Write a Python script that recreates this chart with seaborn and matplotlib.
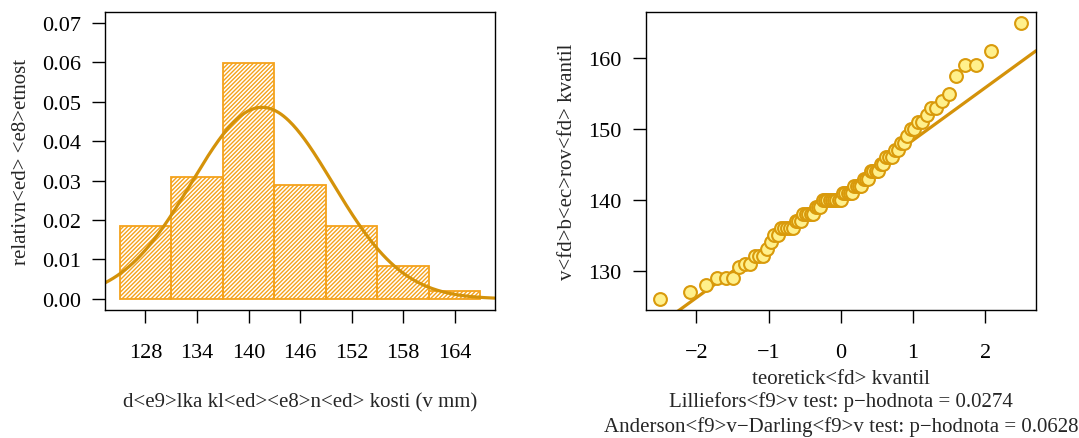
import numpy as np
import pandas as pd
import matplotlib
matplotlib.use("Agg")
import matplotlib.pyplot as plt
import seaborn as sns
from statistics import NormalDist

# delka klicni kosti (mm), 81 hodnot odectenych z Q-Q grafu
kost = [126, 127, 128, 129, 129, 129, 130.5, 131, 131,
        132, 132, 132, 133, 134, 135, 135, 136, 136, 136, 136, 136, 137, 137, 137,
        138, 138, 138, 138, 138, 139, 139, 139,
        140, 140, 140, 140, 140, 140, 140, 140, 140,
        141, 141, 141, 141, 141, 142, 142, 142, 142, 143, 143, 143,
        144, 144, 144, 144, 145, 145, 146, 146, 146, 147, 147, 148, 148, 149,
        150, 150, 151, 151, 152, 153, 153, 154, 155,
        157.5, 159, 159, 161, 165]
breaks = [125, 131, 137, 143, 149, 155, 161, 167]
hist_ticks = [128, 134, 140, 146, 152, 158, 164]
dens_ticks = [0.00, 0.01, 0.02, 0.03, 0.04, 0.05, 0.06, 0.07]
qq_xticks = [-2, -1, 0, 1, 2]
qq_yticks = [130, 140, 150, 160]
p_lillie = "0.0274"
p_ad = "0.0628"

c_bar = "#F4A21C"
c_line = "#D4920A"
c_pt_face = "#FFF08C"
c_pt_edge = "#D99A0B"

sns.set_theme(style="ticks")
plt.rcParams["font.family"] = ["Liberation Serif", "DejaVu Serif"]
plt.rcParams["hatch.linewidth"] = 1.0
plt.rcParams["hatch.color"] = c_bar

df = pd.DataFrame({"x": kost})
x = np.array(kost)
m, s = x.mean(), x.std(ddof=1)

fig = plt.figure(figsize=(10.79, 4.39), dpi=100)
ax1 = fig.add_axes([0.0976, 0.2916, 0.3609, 0.6795])
ax2 = fig.add_axes([0.5984, 0.2916, 0.3617, 0.6795])

# histogram (R bins jsou zprava uzavrene -> posun o epsilon)
sns.histplot(data=df, x="x", bins=np.array(breaks) + 1e-6, stat="density", ax=ax1)
for p in ax1.patches:
    p.set_facecolor("none")
    p.set_edgecolor(c_bar)
    p.set_hatch("////////")
    p.set_linewidth(1.3)

xlim1 = (breaks[0] - 0.04 * (breaks[-1] - breaks[0]), breaks[-1] + 0.04 * (breaks[-1] - breaks[0]))
grid = np.linspace(xlim1[0], xlim1[1], 300)
curve = pd.DataFrame({"x": grid, "y": np.exp(-0.5 * ((grid - m) / s) ** 2) / (s * np.sqrt(2 * np.pi))})
sns.lineplot(data=curve, x="x", y="y", color=c_line, linewidth=2.3, ax=ax1)
ax1.set_xlim(*xlim1)
ax1.set_ylim(-0.0028, 0.0728)
ax1.set_xticks(hist_ticks)
ax1.set_yticks(dens_ticks)
ax1.set_yticklabels([f"{v:.2f}" for v in dens_ticks])
ax1.set_xlabel("d<e9>lka kl<ed><e8>n<ed> kosti (v mm)", fontsize=15, labelpad=22)
ax1.set_ylabel("relativn<ed> <e8>etnost", fontsize=15, labelpad=8)

# Q-Q graf
n = len(x)
srt = np.sort(x)
teor = np.array([NormalDist().inv_cdf((i - 0.5) / n) for i in range(1, n + 1)])
qq = pd.DataFrame({"t": teor, "v": srt})
q1, q3 = np.quantile(x, [0.25, 0.75])
z1, z3 = NormalDist().inv_cdf(0.25), NormalDist().inv_cdf(0.75)
slope = (q3 - q1) / (z3 - z1)
icpt = q1 - slope * z1
xlim2 = (teor[0] - 0.04 * (teor[-1] - teor[0]), teor[-1] + 0.04 * (teor[-1] - teor[0]))
ylim2 = (srt[0] - 0.04 * (srt[-1] - srt[0]), srt[-1] + 0.04 * (srt[-1] - srt[0]))
ln = pd.DataFrame({"t": list(xlim2), "v": [icpt + slope * xlim2[0], icpt + slope * xlim2[1]]})
sns.lineplot(data=ln, x="t", y="v", color=c_line, linewidth=2.3, ax=ax2)
sns.scatterplot(data=qq, x="t", y="v", s=85, color=c_pt_face, edgecolor=c_pt_edge,
                linewidth=1.5, ax=ax2, zorder=3)
ax2.set_xlim(*xlim2)
ax2.set_ylim(*ylim2)
ax2.set_xticks(qq_xticks)
ax2.set_xticklabels([str(v).replace("-", "\u2212") for v in qq_xticks])
ax2.set_yticks(qq_yticks)
ax2.set_xlabel("teoretick<fd> kvantil", fontsize=15, labelpad=5)
ax2.set_ylabel("v<fd>b<ec>rov<fd> kvantil", fontsize=15, labelpad=8)
ax2.text(0.5, -0.305, "Lilliefors<f9>v test: p\u2212hodnota = " + p_lillie, transform=ax2.transAxes,
         ha="center", va="center", fontsize=15, clip_on=False)
ax2.text(0.5, -0.39, "Anderson<f9>v\u2212Darling<f9>v test: p\u2212hodnota = " + p_ad,
         transform=ax2.transAxes, ha="center", va="center", fontsize=15, clip_on=False)

for ax in (ax1, ax2):
    for sp in ax.spines.values():
        sp.set_visible(True)
        sp.set_linewidth(1.0)
        sp.set_color("black")
    ax.tick_params(axis="both", direction="out", length=9.5, width=1.0, labelsize=16,
                   colors="black")
    ax.tick_params(axis="x", pad=14)
    ax.tick_params(axis="y", pad=8)

fig.savefig("out.png", dpi=100)
